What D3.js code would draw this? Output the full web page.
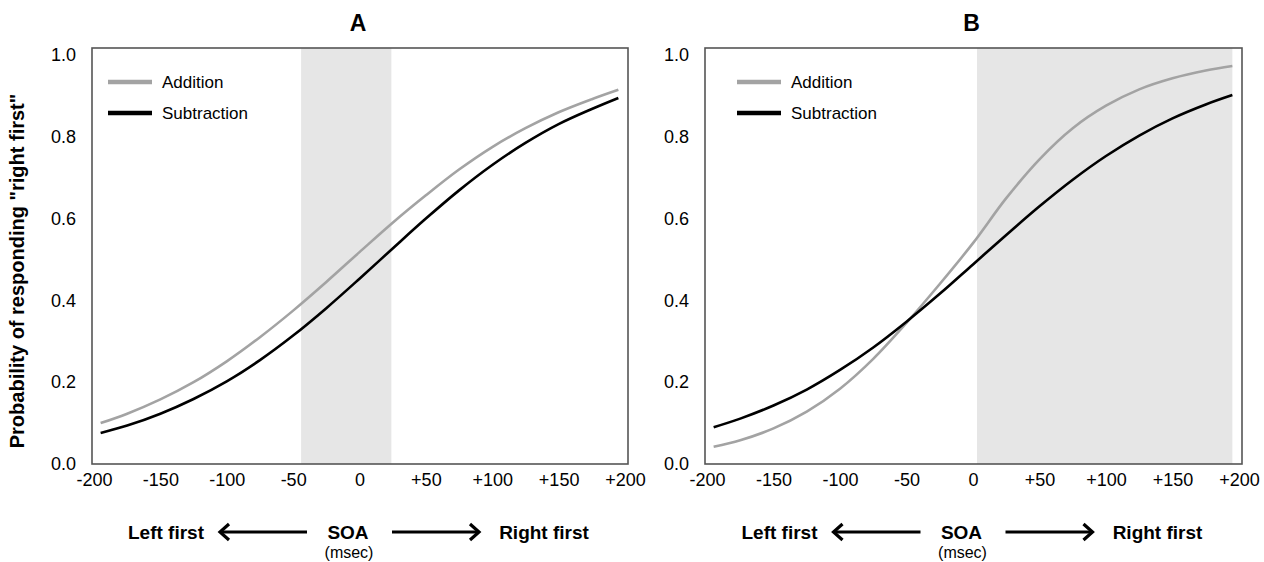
<!DOCTYPE html>
<html>
<head>
  <title>SOA psychometric curves</title>
  <style>
    body {
      margin: 0;
      padding: 0;
      background: #ffffff;
      font-family: "Liberation Sans", Arial, sans-serif;
    }
    svg text {
      fill: #000;
    }
  </style>
</head>
<body>
  <div id="chart"></div>
  <script src="https://d3js.org/d3.v7.min.js"></script>
  <script>
    // values
    const soa = [-195, -175, -150, -125, -100, -75, -50, -25, 0, 25, 50, 75, 100, 125, 150, 175, 195];

    const additionA    = [0.100, 0.123, 0.158, 0.200, 0.251, 0.310, 0.375, 0.445, 0.518, 0.590, 0.657, 0.720, 0.775, 0.821, 0.860, 0.892, 0.915];
    const subtractionA = [0.076, 0.094, 0.123, 0.159, 0.202, 0.254, 0.314, 0.381, 0.453, 0.527, 0.600, 0.669, 0.731, 0.785, 0.831, 0.868, 0.895];

    const additionB    = [0.042, 0.058, 0.087, 0.128, 0.184, 0.257, 0.345, 0.440, 0.540, 0.650, 0.745, 0.821, 0.876, 0.916, 0.943, 0.962, 0.973];
    const subtractionB = [0.090, 0.111, 0.143, 0.182, 0.230, 0.285, 0.348, 0.416, 0.488, 0.560, 0.630, 0.695, 0.753, 0.803, 0.845, 0.879, 0.902];

    const xTicks = [-200, -150, -100, -50, 0, 50, 100, 150, 200];
    const xTickLabels = ["-200", "-150", "-100", "-50", "0", "+50", "+100", "+150", "+200"];
    const yTicks = [0, 0.2, 0.4, 0.6, 0.8, 1.0];

    const shadeA = [-44, 24];
    const shadeB = [3, 195];

    const seriesNames = ["Addition", "Subtraction"];
    const seriesColors = ["#a3a3a3", "#000000"];

    const width = 1264, height = 562;
    const plotTop = 48, plotBottom = 464;

    const svg = d3.select("#chart")
      .append("svg")
      .attr("width", width)
      .attr("height", height);

    // y label shared on the left
    svg.append("text")
      .attr("transform", `translate(24,${(plotTop + plotBottom) / 2 + 15}) rotate(-90)`)
      .attr("text-anchor", "middle")
      .style("font-size", "20px")
      .style("font-weight", "bold")
      .text('Probability of responding "right first"');

    function drawArrow(g, x1, x2, y) {
      // shaft from x1 to x2, head at x2
      const dir = x2 > x1 ? 1 : -1;
      g.append("line")
        .attr("x1", x1).attr("x2", x2 - dir * 2)
        .attr("y1", y).attr("y2", y)
        .attr("stroke", "#000").attr("stroke-width", 3);
      g.append("path")
        .attr("d", `M${x2 - dir * 9},${y - 8} L${x2},${y} L${x2 - dir * 9},${y + 8}`)
        .attr("fill", "none")
        .attr("stroke", "#000")
        .attr("stroke-width", 3.2);
    }

    function drawPanel(opts) {
      const { left, right, title, addition, subtraction, shade, legendX } = opts;
      const g = svg.append("g");

      const x = d3.scaleLinear().domain([-200, 200]).range([left + 2, right - 3]);
      const y = d3.scaleLinear().domain([0, 1]).range([plotBottom, plotTop + 7]);

      // shaded band
      g.append("rect")
        .attr("x", x(shade[0]))
        .attr("y", plotTop)
        .attr("width", x(shade[1]) - x(shade[0]))
        .attr("height", plotBottom - plotTop)
        .attr("fill", "#e6e6e6");

      // curves
      const line = d3.line()
        .x(d => x(d[0]))
        .y(d => y(d[1]))
        .curve(d3.curveCatmullRom);

      [addition, subtraction].forEach((vals, i) => {
        g.append("path")
          .datum(soa.map((s, j) => [s, vals[j]]))
          .attr("d", line)
          .attr("fill", "none")
          .attr("stroke", seriesColors[i])
          .attr("stroke-width", 2.6);
      });

      // frame
      g.append("rect")
        .attr("x", left)
        .attr("y", plotTop)
        .attr("width", right - left)
        .attr("height", plotBottom - plotTop)
        .attr("fill", "none")
        .attr("stroke", "#555")
        .attr("stroke-width", 1.6);

      // axes, labels only
      const xAxis = d3.axisBottom(x)
        .tickValues(xTicks)
        .tickSize(0)
        .tickPadding(9)
        .tickFormat((d, i) => xTickLabels[i]);
      const xg = g.append("g")
        .attr("transform", `translate(0,${plotBottom})`)
        .call(xAxis);
      xg.select(".domain").remove();
      xg.selectAll("text")
        .style("font-size", "18px")
        .style("font-family", '"Liberation Sans", Arial, sans-serif')
        .attr("fill", "#000");

      const yAxis = d3.axisLeft(y)
        .tickValues(yTicks)
        .tickSize(0)
        .tickPadding(16)
        .tickFormat(d3.format(".1f"));
      const yg = g.append("g")
        .attr("transform", `translate(${left},0)`)
        .call(yAxis);
      yg.select(".domain").remove();
      yg.selectAll("text")
        .style("font-size", "18px")
        .style("font-family", '"Liberation Sans", Arial, sans-serif')
        .attr("fill", "#000");

      // legend
      seriesNames.forEach((name, i) => {
        const ly = 82 + i * 31;
        g.append("line")
          .attr("x1", legendX).attr("x2", legendX + 44)
          .attr("y1", ly).attr("y2", ly)
          .attr("stroke", seriesColors[i])
          .attr("stroke-width", 4.5);
        g.append("text")
          .attr("x", legendX + 54)
          .attr("y", ly)
          .attr("dy", "0.35em")
          .style("font-size", "17px")
          .text(name);
      });

      // panel title
      g.append("text")
        .attr("x", (left + right) / 2 - 2)
        .attr("y", 31)
        .attr("text-anchor", "middle")
        .style("font-size", "23px")
        .style("font-weight", "bold")
        .text(title);

      // bottom annotation
      const mid = (left + right) / 2 - 12;
      g.append("text")
        .attr("x", mid - 182)
        .attr("y", 539)
        .attr("text-anchor", "middle")
        .style("font-size", "19px")
        .style("font-weight", "bold")
        .text("Left first");
      drawArrow(g, mid - 41, mid - 128, 532);
      g.append("text")
        .attr("x", mid)
        .attr("y", 539)
        .attr("text-anchor", "middle")
        .style("font-size", "19px")
        .style("font-weight", "bold")
        .text("SOA");
      g.append("text")
        .attr("x", mid + 1)
        .attr("y", 558)
        .attr("text-anchor", "middle")
        .style("font-size", "16px")
        .text("(msec)");
      drawArrow(g, mid + 44, mid + 131, 532);
      g.append("text")
        .attr("x", mid + 196)
        .attr("y", 539)
        .attr("text-anchor", "middle")
        .style("font-size", "19px")
        .style("font-weight", "bold")
        .text("Right first");
    }

    drawPanel({
      left: 92, right: 628, title: "A",
      addition: additionA, subtraction: subtractionA,
      shade: shadeA, legendX: 108
    });

    drawPanel({
      left: 705, right: 1242, title: "B",
      addition: additionB, subtraction: subtractionB,
      shade: shadeB, legendX: 737
    });
  </script>
</body>
</html>
